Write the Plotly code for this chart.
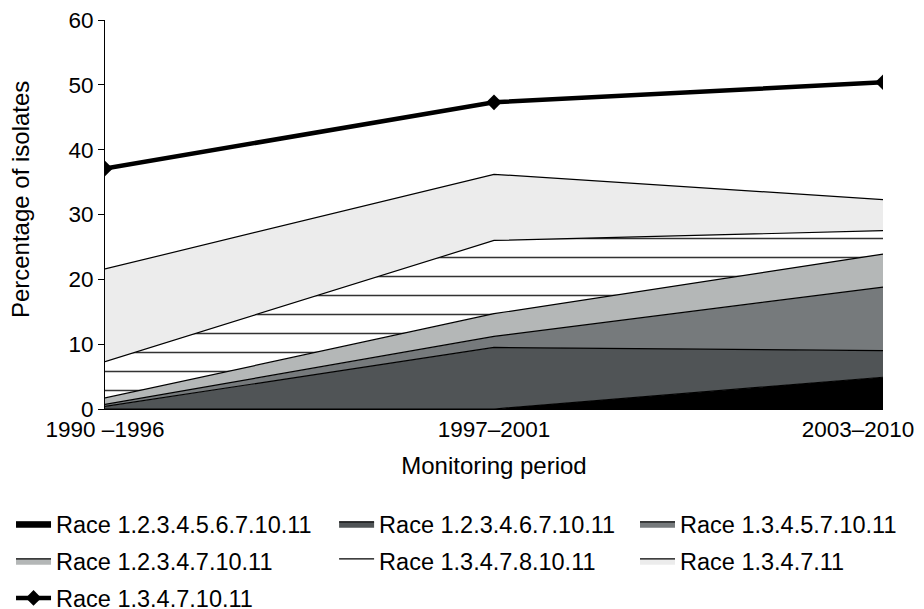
import plotly.graph_objects as go

# monitoring periods (x categories)
periods = ['1990 –1996', '1997–2001', '2003–2010']

# percentage of isolates per race (stacked areas, bottom to top)
race_123456791011 = [0.0, 0.0, 4.9]
race_1234671011 = [0.4, 9.5, 4.1]
race_134571011 = [0.3, 1.7, 9.8]
race_123471011 = [1.0, 3.5, 5.1]
race_134781011 = [5.6, 11.3, 3.6]
race_134711 = [14.3, 10.2, 4.8]

# line series
race_13471011 = [37.1, 47.3, 50.4]

area_names = ['Race 1.2.3.4.5.6.7.10.11', 'Race 1.2.3.4.6.7.10.11',
              'Race 1.3.4.5.7.10.11', 'Race 1.2.3.4.7.10.11',
              'Race 1.3.4.7.8.10.11', 'Race 1.3.4.7.11']
area_values = [race_123456791011, race_1234671011, race_134571011,
               race_123471011, race_134781011, race_134711]
area_colors = ['#000000', '#505456', '#767a7c', '#b4b7b7', '#ffffff', '#ececec']

# the Excel legend is a 3-column grid, so each column is its own legend
legend_cols = ['legend', 'legend2', 'legend3']

font_family = 'Arial, Liberation Sans, sans-serif'

fig = go.Figure()

for i in range(len(area_names)):
    trace = dict(x=periods, y=area_values[i],
                 name=area_names[i],
                 mode='lines',
                 stackgroup='one',
                 line=dict(color='black', width=1.2),
                 fillcolor=area_colors[i],
                 legend=legend_cols[i % 3],
                 legendgroup='g{}'.format(i),
                 hoverinfo='skip')
    if area_names[i] == 'Race 1.3.4.7.8.10.11':
        # horizontal line pattern like the Excel fill
        trace['fillpattern'] = dict(shape='-', size=19, solidity=0.08,
                                    fgcolor='#333333', bgcolor='white',
                                    fillmode='replace')
    fig.add_trace(go.Scatter(**trace))

fig.add_trace(go.Scatter(x=periods, y=race_13471011,
                         name='Race 1.3.4.7.10.11',
                         mode='lines+markers',
                         line=dict(color='black', width=4.5),
                         marker=dict(symbol='diamond', size=12, color='black'),
                         legend='legend',
                         legendgroup='g6',
                         hoverinfo='skip'))

leg_common = dict(orientation='v',
                  xref='container', yref='container',
                  y=0.178, xanchor='left', yanchor='top',
                  traceorder='grouped',
                  tracegroupgap=3.5,
                  itemwidth=35,
                  bgcolor='rgba(0,0,0,0)',
                  font=dict(family=font_family, size=23.5, color='black'))

fig.update_layout(
    width=916,
    height=601,
    margin=dict(l=97, r=41, t=12, b=200, autoexpand=False),
    paper_bgcolor='white',
    plot_bgcolor='white',
    font=dict(family=font_family, size=22.5, color='black'),
    showlegend=True,
    legend=dict(x=0.0033, **leg_common),
    legend2=dict(x=0.356, **leg_common),
    legend3=dict(x=0.6845, **leg_common),
)

# y axis title as a rotated annotation (axis title standoff misplaces it here)
fig.add_annotation(text='Percentage of isolates',
                   textangle=-90,
                   xref='paper', yref='paper',
                   x=0, y=0.537,
                   xanchor='center', yanchor='middle',
                   xshift=-85,
                   showarrow=False,
                   font=dict(family=font_family, size=24, color='black'))

fig.update_xaxes(
    type='category',
    range=[0, 2],
    tickvals=periods,
    ticktext=[periods[0], periods[1], periods[2] + '\u00a0' * 8],
    showline=True, linecolor='black', linewidth=1,
    showgrid=False, zeroline=False,
    ticks='',
    ticklabeloverflow='allow',
    automargin=False,
    title=dict(text='Monitoring period', standoff=16, font=dict(size=24)),
)

fig.update_yaxes(
    range=[0, 60],
    dtick=10,
    showline=True, linecolor='black', linewidth=1,
    showgrid=False, zeroline=False,
    ticks='outside', ticklen=6, tickcolor='black',
    ticklabeloverflow='allow',
    automargin=False,
)

fig.write_html("out.html")
